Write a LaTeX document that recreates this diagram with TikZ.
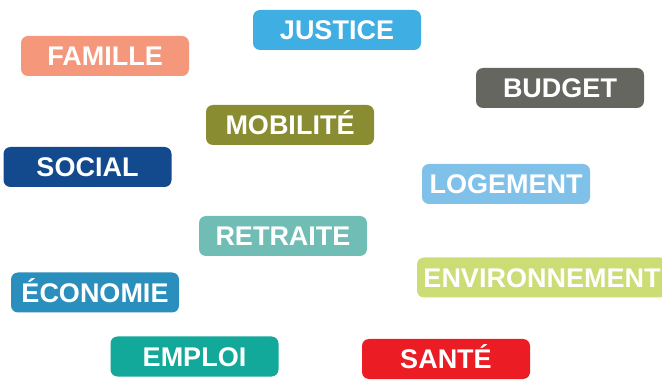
\documentclass[tikz,border=0pt]{standalone}
\usepackage{fontspec}
\setmainfont{Liberation Sans}
\definecolor{cfamille}{HTML}{F4977A}
\definecolor{cjustice}{HTML}{3FAEE2}
\definecolor{cmobilite}{HTML}{8A8C32}
\definecolor{csocial}{HTML}{134A8E}
\definecolor{cbudget}{HTML}{666661}
\definecolor{clogement}{HTML}{80C1EA}
\definecolor{cretraite}{HTML}{6FBDB4}
\definecolor{ceconomie}{HTML}{2A8FBD}
\definecolor{cemploi}{HTML}{12A89A}
\definecolor{cenvironnement}{HTML}{CBDD74}
\definecolor{csante}{HTML}{EC1C24}
\tikzset{
  tag/.style={rounded corners=7pt, minimum width=168pt, minimum height=40pt,
    inner sep=0pt, text=white, font=\fontsize{27}{27}\selectfont\bfseries,
    text height=19.4pt, text depth=0pt, align=center}
}
\begin{document}
\begin{tikzpicture}[x=1pt,y=-1pt]
\useasboundingbox (0,0) rectangle (662,382);
\clip (0,0) rectangle (662,382);
\node[tag, fill=cfamille] (famille) at (105,56) {FAMILLE};
\node[tag, fill=cjustice] (justice) at (337,30) {JUSTICE};
\node[tag, fill=cmobilite] (mobilite) at (290,125) {MOBILITÉ};
\node[tag, fill=csocial] (social) at (87.5,167) {SOCIAL};
\node[tag, fill=cbudget] (budget) at (560,88) {BUDGET};
\node[tag, fill=clogement] (logement) at (506,184) {LOGEMENT};
\node[tag, fill=cretraite] (retraite) at (283,236) {RETRAITE};
\node[tag, fill=ceconomie] (economie) at (95,292.5) {ÉCONOMIE};
\node[tag, fill=cemploi] (emploi) at (194.5,356.5) {EMPLOI};
\node[tag, fill=cenvironnement, minimum width=250pt] (environnement) at (542,277.5) {ENVIRONNEMENT};
\node[tag, fill=csante] (sante) at (446,359) {SANTÉ};
\end{tikzpicture}
\end{document}
